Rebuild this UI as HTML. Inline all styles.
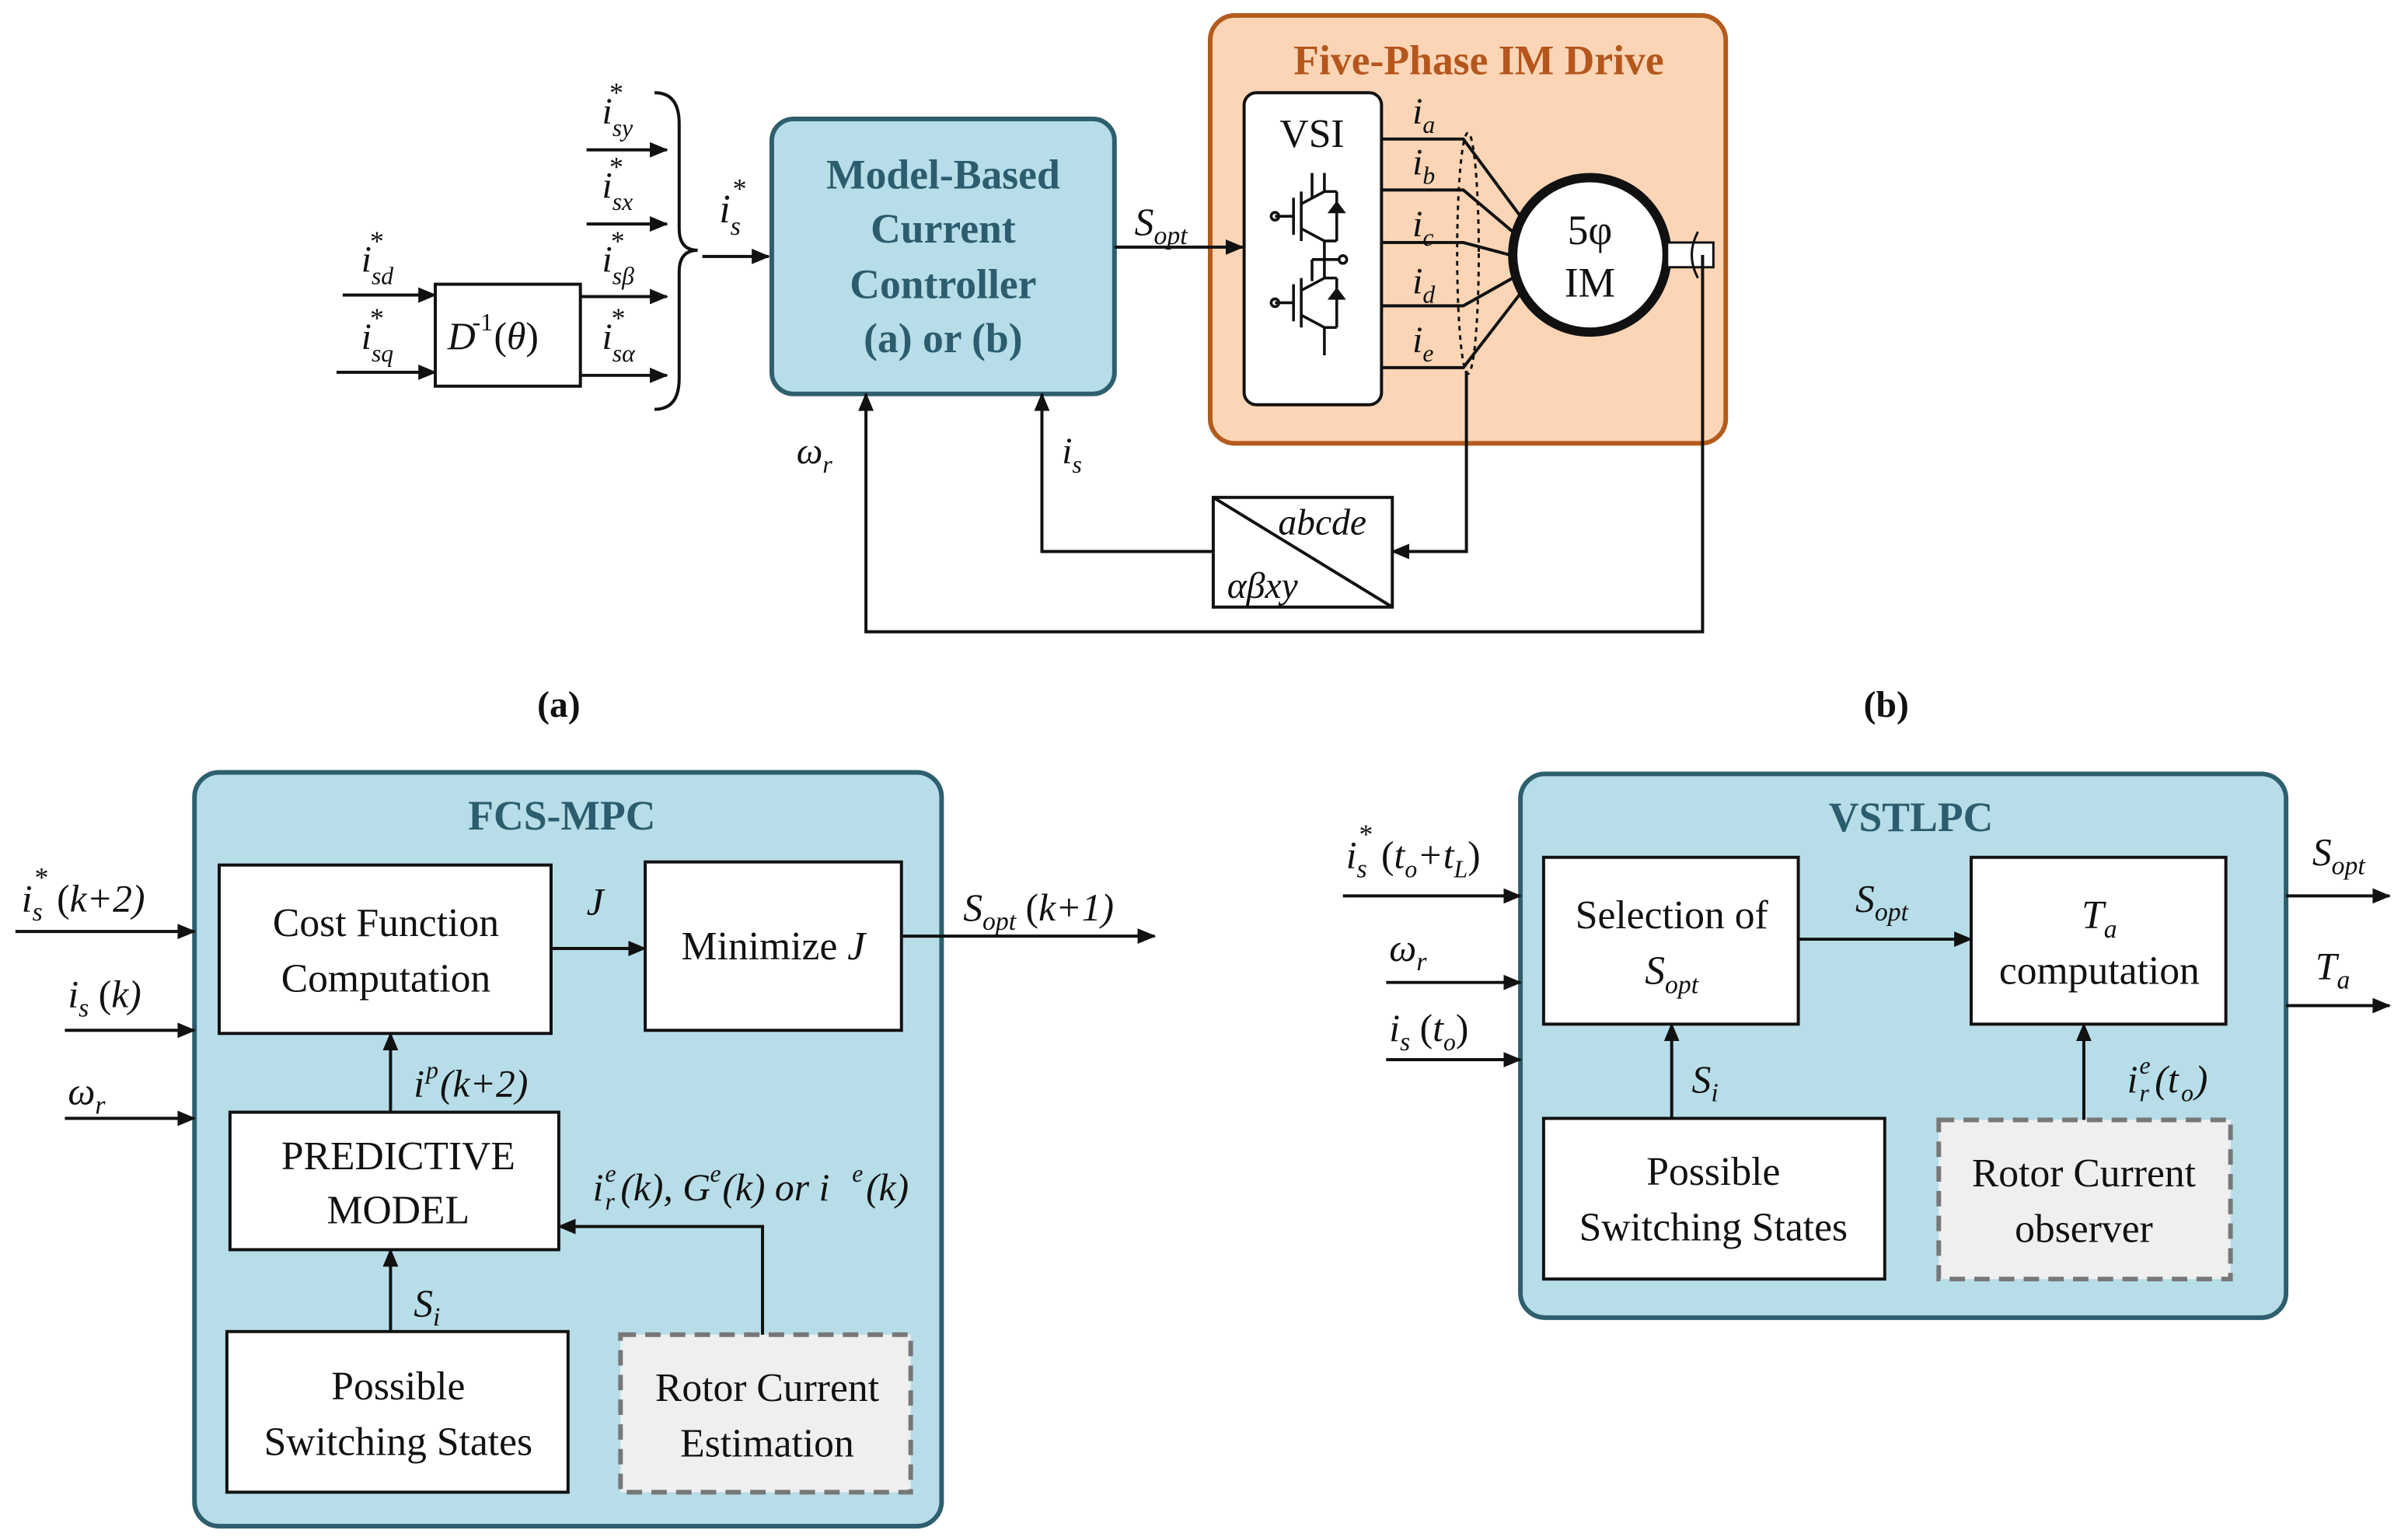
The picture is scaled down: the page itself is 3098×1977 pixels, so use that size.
<!DOCTYPE html>
<html><head><meta charset="utf-8">
<style>
html,body{margin:0;padding:0;background:#fff;}
svg{display:block;}
text{font-family:"Liberation Serif",serif;fill:#111;}
.it{font-style:italic;}
.b{font-weight:bold;}
</style></head><body>
<svg width="3098" height="1977" viewBox="0 0 1560 995" preserveAspectRatio="none" xmlns="http://www.w3.org/2000/svg">
<defs>
<marker id="ar" markerWidth="12" markerHeight="10" refX="11" refY="5" orient="auto" markerUnits="userSpaceOnUse">
<path d="M0,0 L12,5 L0,10 z" fill="#111"/></marker>
</defs>
<g stroke="#111" stroke-width="2" fill="none">
<rect x="282" y="184" width="94" height="66" fill="#fff"/>
<line x1="222" y1="191" x2="282" y2="191" marker-end="url(#ar)"/>
<line x1="218" y1="241" x2="282" y2="241" marker-end="url(#ar)"/>
<line x1="380" y1="97" x2="432" y2="97" marker-end="url(#ar)"/>
<line x1="380" y1="145" x2="432" y2="145" marker-end="url(#ar)"/>
<line x1="376" y1="192" x2="432" y2="192" marker-end="url(#ar)"/>
<line x1="376" y1="243" x2="432" y2="243" marker-end="url(#ar)"/>
<path d="M424,60 Q440,60 440,80 L440,148 Q440,162 452,162 Q440,162 440,176 L440,245 Q440,265 424,265"/>
<line x1="455" y1="166" x2="498" y2="166" marker-end="url(#ar)"/>
</g>
<text x="290" y="226" font-size="25" class="it">D</text><text x="306" y="214" font-size="16">-1</text><text x="320" y="226" font-size="25">(<tspan class="it">θ</tspan>)</text>
<text x="234" y="176" font-size="24" class="it">i<tspan font-size="16" dy="8">sd</tspan><tspan font-size="18" dy="-22" dx="-16">*</tspan></text>
<text x="234" y="226" font-size="24" class="it">i<tspan font-size="16" dy="8">sq</tspan><tspan font-size="18" dy="-22" dx="-16">*</tspan></text>
<text x="390" y="80" font-size="24" class="it">i<tspan font-size="16" dy="8">sy</tspan><tspan font-size="18" dy="-22" dx="-16">*</tspan></text>
<text x="390" y="128" font-size="24" class="it">i<tspan font-size="16" dy="8">sx</tspan><tspan font-size="18" dy="-22" dx="-16">*</tspan></text>
<text x="390" y="176" font-size="24" class="it">i<tspan font-size="16" dy="8">sβ</tspan><tspan font-size="18" dy="-22" dx="-16">*</tspan></text>
<text x="390" y="226" font-size="24" class="it">i<tspan font-size="16" dy="8">sα</tspan><tspan font-size="18" dy="-22" dx="-16">*</tspan></text>
<text x="466" y="144" font-size="26" class="it">i<tspan font-size="17" dy="8">s</tspan><tspan font-size="18" dy="-24" dx="-6">*</tspan></text>
<rect x="500" y="77" width="222" height="178" rx="14" fill="#b7dde8" stroke="#2d5f6e" stroke-width="3"/>
<g font-size="27" class="b" text-anchor="middle">
<text x="611" y="122" style="fill:#2b5d6e">Model-Based</text>
<text x="611" y="157" style="fill:#2b5d6e">Current</text>
<text x="611" y="193" style="fill:#2b5d6e">Controller</text>
<text x="611" y="228" style="fill:#2b5d6e">(a) or (b)</text>
</g>
<rect x="784" y="10" width="334" height="277" rx="16" fill="#fbd5b5" stroke="#b35c1e" stroke-width="3"/>
<line x1="722" y1="160" x2="805" y2="160" stroke="#111" stroke-width="2" marker-end="url(#ar)"/>
<text x="735" y="152" font-size="25" class="it">S<tspan font-size="17" dy="6">opt</tspan></text>
<text x="958" y="48" font-size="27" class="b" text-anchor="middle" style="fill:#b5561d">Five-Phase IM Drive</text>
<rect x="806" y="60" width="89" height="202" rx="8" fill="#fff" stroke="#111" stroke-width="2"/>
<text x="850" y="95" font-size="26" text-anchor="middle">VSI</text>
<g stroke="#111" stroke-width="1.8" fill="none">
<path d="M850,112 V128 M838,128 V152 M843,124 V156 M843,132 L858,124 V112 M843,148 L858,156 V168 M826,140 H838 M866,124 V156 M858,124 H866 M858,156 H866"/>
<path d="M850,168 V182 M838,184 V208 M843,180 V212 M843,188 L858,180 V168 M843,204 L858,212 V230 M826,196 H838 M866,180 V212 M858,180 H866 M858,212 H866"/>
<circle cx="826" cy="140" r="2.5"/><circle cx="826" cy="196" r="2.5"/><circle cx="870" cy="168" r="2.5"/>
<path d="M850,168 H868"/>
</g>
<path d="M860,138 L872,138 L866,130 z M860,194 L872,194 L866,186 z" fill="#111"/>
<g stroke="#111" stroke-width="2" fill="none">
<path d="M895,90 H948 L985,140"/>
<path d="M895,123 H948 L980,150"/>
<path d="M895,157 H948 L978,165"/>
<path d="M895,198 H948 L980,180"/>
<path d="M895,238 H948 L985,190"/>
<ellipse cx="951" cy="164" rx="7" ry="78" stroke-dasharray="3,3" stroke-width="1.5"/>
<circle cx="1030" cy="165" r="50" fill="#fff" stroke-width="6"/>
<rect x="1080" y="157" width="30" height="16" fill="#fff" stroke-width="1.5"/>
<path d="M1100,150 Q1092,165 1100,180" stroke-width="1.5"/>
<path d="M1103,165 V409 H561 V255" marker-end="url(#ar)"/>
<path d="M950,240 V357 H902" marker-end="url(#ar)"/>
<rect x="786" y="322" width="116" height="71" fill="#fff"/>
<line x1="786" y1="322" x2="902" y2="393"/>
<path d="M786,357 H675 V255" marker-end="url(#ar)"/>
</g>
<text x="1030" y="158" font-size="27" text-anchor="middle">5φ</text>
<text x="1030" y="192" font-size="27" text-anchor="middle">IM</text>
<g font-size="24" class="it">
<text x="915" y="80">i<tspan font-size="16" dy="6">a</tspan></text>
<text x="915" y="113">i<tspan font-size="16" dy="6">b</tspan></text>
<text x="915" y="153">i<tspan font-size="16" dy="6">c</tspan></text>
<text x="915" y="190">i<tspan font-size="16" dy="6">d</tspan></text>
<text x="915" y="228">i<tspan font-size="16" dy="6">e</tspan></text>
<text x="828" y="346">abcde</text>
<text x="795" y="387">αβxy</text>
<text x="688" y="300">i<tspan font-size="16" dy="6">s</tspan></text>
<text x="516" y="300">ω<tspan font-size="16" dy="6">r</tspan></text>
</g>
<text x="362" y="464" font-size="24" class="b" text-anchor="middle">(a)</text>
<text x="1222" y="464" font-size="24" class="b" text-anchor="middle">(b)</text>
<rect x="126" y="500" width="484" height="488" rx="16" fill="#b7dde8" stroke="#2d5f6e" stroke-width="3"/>
<text x="364" y="537" font-size="27" class="b" text-anchor="middle" style="fill:#2b5d6e">FCS-MPC</text>
<g stroke="#111" stroke-width="2">
<rect x="142" y="560" width="215" height="109" fill="#fff"/>
<rect x="418" y="558" width="166" height="109" fill="#fff"/>
<rect x="149" y="720" width="213" height="89" fill="#fff"/>
<rect x="147" y="862" width="221" height="104" fill="#fff"/>
<rect x="402" y="864" width="188" height="102" fill="#efefef" stroke="#777" stroke-width="3" stroke-dasharray="10,6"/>
<g fill="none">
<line x1="357" y1="614" x2="418" y2="614" marker-end="url(#ar)"/>
<line x1="584" y1="606" x2="748" y2="606" marker-end="url(#ar)"/>
<line x1="10" y1="603" x2="126" y2="603" marker-end="url(#ar)"/>
<line x1="42" y1="667" x2="126" y2="667" marker-end="url(#ar)"/>
<line x1="42" y1="724" x2="126" y2="724" marker-end="url(#ar)"/>
<line x1="253" y1="720" x2="253" y2="669" marker-end="url(#ar)"/>
<line x1="253" y1="862" x2="253" y2="809" marker-end="url(#ar)"/>
<path d="M494,864 V794 H362" marker-end="url(#ar)"/>
</g></g>
<g font-size="26" text-anchor="middle">
<text x="250" y="606">Cost Function</text>
<text x="250" y="642">Computation</text>
<text x="501" y="621">Minimize <tspan class="it">J</tspan></text>
<text x="258" y="757">PREDICTIVE</text>
<text x="258" y="792">MODEL</text>
<text x="258" y="906">Possible</text>
<text x="258" y="942">Switching States</text>
<text x="497" y="907">Rotor Current</text>
<text x="497" y="943">Estimation</text>
</g>
<g font-size="25" class="it">
<text x="380" y="592">J</text>
<text x="624" y="596">S<tspan font-size="17" dy="6">opt</tspan><tspan dy="-6" style="font-style:normal"> (</tspan>k+1)</text>
<text x="14" y="590">i<tspan font-size="17" dy="6">s</tspan><tspan font-size="18" dy="-22" dx="-6">*</tspan><tspan dy="16" style="font-style:normal"> (</tspan>k+2)</text>
<text x="44" y="652">i<tspan font-size="17" dy="6">s</tspan><tspan dy="-6" style="font-style:normal"> (</tspan>k)</text>
<text x="44" y="715">ω<tspan font-size="17" dy="6">r</tspan></text>
<text x="268" y="710">i</text><text x="276" y="698" font-size="16">p</text><text x="285" y="710">(k+2)</text>
<text x="268" y="852">S<tspan font-size="17" dy="6">i</tspan></text>
<text x="384" y="777">i</text><text x="392" y="765" font-size="16">e</text><text x="392" y="783" font-size="16">r</text>
<text x="402" y="777">(k), G</text><text x="460" y="765" font-size="16">e</text><text x="468" y="777">(k) or  i</text><text x="552" y="765" font-size="16">e</text><text x="561" y="777">(k)</text>
</g>
<rect x="985" y="501" width="496" height="352" rx="16" fill="#b7dde8" stroke="#2d5f6e" stroke-width="3"/>
<text x="1238" y="538" font-size="27" class="b" text-anchor="middle" style="fill:#2b5d6e">VSTLPC</text>
<g stroke="#111" stroke-width="2">
<rect x="1000" y="555" width="165" height="108" fill="#fff"/>
<rect x="1277" y="555" width="165" height="108" fill="#fff"/>
<rect x="1000" y="724" width="221" height="104" fill="#fff"/>
<rect x="1256" y="725" width="189" height="103" fill="#efefef" stroke="#777" stroke-width="3" stroke-dasharray="10,6"/>
<g fill="none">
<line x1="1165" y1="608" x2="1277" y2="608" marker-end="url(#ar)"/>
<line x1="870" y1="580" x2="985" y2="580" marker-end="url(#ar)"/>
<line x1="898" y1="636" x2="985" y2="636" marker-end="url(#ar)"/>
<line x1="898" y1="686" x2="985" y2="686" marker-end="url(#ar)"/>
<line x1="1481" y1="580" x2="1548" y2="580" marker-end="url(#ar)"/>
<line x1="1481" y1="651" x2="1548" y2="651" marker-end="url(#ar)"/>
<line x1="1083" y1="724" x2="1083" y2="663" marker-end="url(#ar)"/>
<line x1="1350" y1="725" x2="1350" y2="663" marker-end="url(#ar)"/>
</g></g>
<g font-size="26" text-anchor="middle">
<text x="1083" y="601">Selection of</text>
<text x="1083" y="637" class="it">S<tspan font-size="17" dy="6">opt</tspan></text>
<text x="1360" y="601" class="it">T<tspan font-size="17" dy="6">a</tspan></text>
<text x="1360" y="637">computation</text>
<text x="1110" y="767">Possible</text>
<text x="1110" y="803">Switching States</text>
<text x="1350" y="768">Rotor Current</text>
<text x="1350" y="804">observer</text>
</g>
<g font-size="25" class="it">
<text x="1202" y="590">S<tspan font-size="17" dy="6">opt</tspan></text>
<text x="1498" y="560">S<tspan font-size="17" dy="6">opt</tspan></text>
<text x="1500" y="634">T<tspan font-size="17" dy="6">a</tspan></text>
<text x="872" y="562">i<tspan font-size="17" dy="6">s</tspan><tspan font-size="18" dy="-22" dx="-6">*</tspan><tspan dy="16" style="font-style:normal"> (</tspan>t<tspan font-size="16" dy="6">o</tspan><tspan dy="-6">+t</tspan><tspan font-size="16" dy="6">L</tspan><tspan dy="-6" style="font-style:normal">)</tspan></text>
<text x="900" y="622">ω<tspan font-size="17" dy="6">r</tspan></text>
<text x="900" y="674">i<tspan font-size="17" dy="6">s</tspan><tspan dy="-6" style="font-style:normal"> (</tspan>t<tspan font-size="16" dy="6">o</tspan><tspan dy="-6" style="font-style:normal">)</tspan></text>
<text x="1096" y="707">S<tspan font-size="17" dy="6">i</tspan></text>
<text x="1378" y="707">i</text><text x="1386" y="695" font-size="16">e</text><text x="1386" y="713" font-size="16">r</text>
<text x="1396" y="707">(t</text><text x="1413" y="713" font-size="16">o</text><text x="1422" y="707">)</text>
</g>
</svg>
</body></html>
